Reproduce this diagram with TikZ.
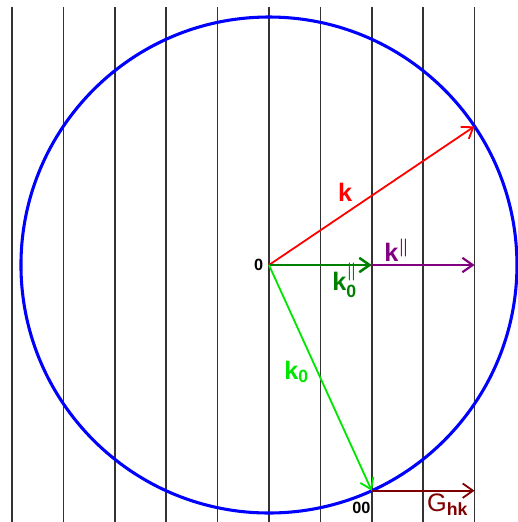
\documentclass[tikz,border=0pt]{standalone}
\usepackage{amsmath}
\usepackage{fontspec}
\setmainfont{Liberation Sans}
\setsansfont{Liberation Sans}
\usetikzlibrary{arrows.meta}
\definecolor{kgreen}{RGB}{0,230,0}
\definecolor{kdgreen}{RGB}{0,128,0}
\definecolor{kpurple}{RGB}{128,0,128}
\definecolor{kdred}{RGB}{128,0,0}
\begin{document}
\begin{tikzpicture}[
    vec/.style={line width=1pt, -{Straight Barb[length=2mm,width=2.8mm]}},
    lbl/.style={font=\fontsize{14}{14}\selectfont\bfseries, inner sep=0pt},
    plane/.style={line width=0.9pt, black!80}]
    \useasboundingbox (-5.233,-5.0) rectangle (4.844,5.156);
    % Netzebenen
    \foreach \i in {-5,...,4}
        \draw[plane] (\i,5.02) -- (\i,-5.0);
    % Ewaldkugel
    \draw[blue, line width=1.7pt] (0,0) circle (4.825);
    \coordinate (O) at (0,0);
    \coordinate (K) at (4,2.698);
    \coordinate (OO) at (2,-4.391);
    \coordinate (Kp) at (4,0);
    \coordinate (K0p) at (2,0);
    \coordinate (G) at (4,-4.391);
    % Vektoren
    \draw[vec, red] (O) -- (K);
    \draw[vec, kpurple, line width=1.2pt] (O) -- (Kp);
    \draw[vec, kdgreen, line width=1.4pt] (O) -- (K0p);
    \draw[vec, kgreen] (O) -- (OO);
    \draw[vec, kdred] (OO) -- (G);
    % Beschriftungen
    \node[lbl, red] (lk) at (1.48,1.42) {k};
    \node[lbl, kpurple] (lkp) at (2.49,0.29) {k$^{\boldsymbol{\parallel}}$};
    \node[lbl, kdgreen] (lk0p) at (1.48,-0.3) {k$_{\text{0}}^{\boldsymbol{\parallel}}$};
    \node[lbl, kgreen] (lk0) at (0.54,-2.08) {k$_{\text{0}}$};
    \node[font=\fontsize{14}{14}\selectfont, kdred, inner sep=0pt] (lg) at (3.48,-4.67) {G$_{\textbf{hk}}$};
    \node[font=\fontsize{9}{9}\selectfont\bfseries, inner sep=0pt] (l0) at (-0.2,0) {0};
    \node[font=\fontsize{9}{9}\selectfont\bfseries, inner sep=0pt] (l00) at (1.8,-4.72) {00};
\end{tikzpicture}
\end{document}
